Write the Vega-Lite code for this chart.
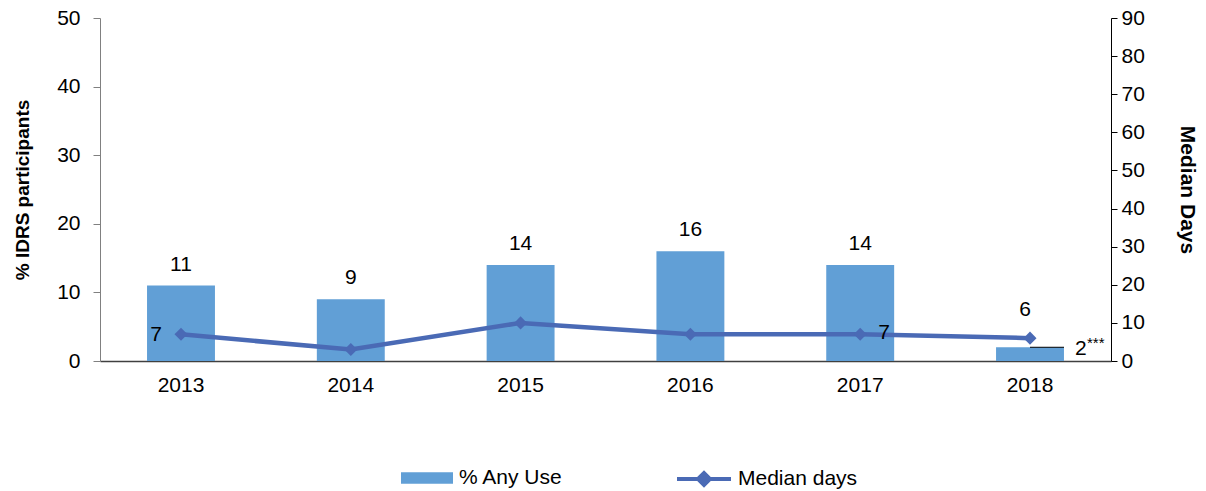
{
  "$schema": "https://vega.github.io/schema/vega-lite/v6.json",
  "width": 1011,
  "height": 343,
  "autosize": {"type": "none"},
  "padding": {"left": 100, "top": 18, "right": 95, "bottom": 130},
  "background": "white",
  "config": {
    "font": "Liberation Sans",
    "view": {"stroke": null},
    "axis": {"grid": false, "labelFont": "Liberation Sans", "titleFont": "Liberation Sans", "labelFontSize": 21, "labelColor": "#000", "titleColor": "#000", "titleFontSize": 21, "titleFontWeight": "bold", "labelOverlap": false, "labelFlush": false},
    "legend": {"labelFont": "Liberation Sans", "labelFontSize": 21, "labelColor": "#000", "padding": 0}
  },
  "data": {
    "values": [
      {"year": "2013", "anyUse": 11, "median": 7, "barLabel": "11", "lineLabel": "7", "series": "% Any Use", "lineSeries": "Median days"},
      {"year": "2014", "anyUse": 9, "median": 3, "barLabel": "9", "lineLabel": "", "series": "% Any Use", "lineSeries": "Median days"},
      {"year": "2015", "anyUse": 14, "median": 10, "barLabel": "14", "lineLabel": "", "series": "% Any Use", "lineSeries": "Median days"},
      {"year": "2016", "anyUse": 16, "median": 7, "barLabel": "16", "lineLabel": "", "series": "% Any Use", "lineSeries": "Median days"},
      {"year": "2017", "anyUse": 14, "median": 7, "barLabel": "14", "lineLabel": "7", "series": "% Any Use", "lineSeries": "Median days"},
      {"year": "2018", "anyUse": 2, "median": 6, "barLabel": "", "lineLabel": "6", "series": "% Any Use", "lineSeries": "Median days"}
    ]
  },
  "encoding": {
    "x": {
      "field": "year", "type": "nominal", "title": null,
      "scale": {"paddingInner": 0.6, "paddingOuter": 0.277},
      "axis": {"labelAngle": 0, "ticks": false, "labelPadding": 13, "domainColor": "#404040", "domainWidth": 1.5}
    }
  },
  "layer": [
    {
      "encoding": {
        "y": {"field": "anyUse", "type": "quantitative", "scale": {"domain": [0, 50]}, "title": "% IDRS participants",
          "axis": {"orient": "left", "values": [0, 10, 20, 30, 40, 50], "tickCount": 20, "labelOverlap": false, "domainColor": "#808080", "tickColor": "#808080", "tickSize": 7, "labelPadding": 13, "titlePadding": 24, "titleFontSize": 19}}
      },
      "layer": [
        {
          "mark": {"type": "bar"},
          "encoding": {
            "fill": {"field": "series", "type": "nominal", "scale": {"range": ["#619FD6"]},
              "legend": {"title": null, "orient": "none", "legendX": 301, "legendY": 434, "symbolType": "M-1,-0.22H1V0.22H-1Z", "symbolSize": 2704, "symbolStrokeWidth": 0, "labelOffset": 6}}
          }
        },
        {
          "mark": {"type": "text", "fontSize": 21, "baseline": "bottom", "dy": -11, "color": "#000"},
          "encoding": {
            "text": {"field": "barLabel"}
          }
        },
        {
          "transform": [{"filter": "datum.year == '2018'"}],
          "mark": {"type": "rule", "color": "#000", "strokeWidth": 1, "x2Offset": 34},
          "encoding": {
            "x": {"field": "year", "type": "nominal", "bandPosition": 0.5},
            "x2": {"field": "year"}
          }
        },
        {
          "transform": [{"filter": "datum.year == '2018'"}],
          "mark": {"type": "text", "fontSize": 21, "align": "left", "baseline": "middle", "dx": 45, "dy": 2, "color": "#000"},
          "encoding": {
            "text": {"value": "2"}
          }
        },
        {
          "transform": [{"filter": "datum.year == '2018'"}],
          "mark": {"type": "text", "fontSize": 15, "align": "left", "baseline": "middle", "dx": 57, "dy": -4, "color": "#000"},
          "encoding": {
            "text": {"value": "***"}
          }
        }
      ]
    },
    {
      "encoding": {
        "y": {"field": "median", "type": "quantitative", "scale": {"domain": [0, 90]}, "title": "Median Days",
          "axis": {"orient": "right", "values": [0, 10, 20, 30, 40, 50, 60, 70, 80, 90], "tickCount": 20, "labelOverlap": false, "domainColor": "#000", "tickColor": "#000", "tickSize": 6, "labelPadding": 4, "titlePadding": 32}}
      },
      "layer": [
        {
          "mark": {"type": "line", "strokeWidth": 4.5},
          "encoding": {
            "stroke": {"field": "lineSeries", "type": "nominal", "scale": {"range": ["#4A6AB5"]},
              "legend": {"title": null, "orient": "none", "legendX": 575, "legendY": 432, "symbolType": "M-1,0H1M-0.22,0L0,-0.22L0.22,0L0,0.22Z", "symbolSize": 2916, "symbolStrokeWidth": 4, "symbolFillColor": "#4A6AB5", "labelOffset": 5}}
          }
        },
        {
          "mark": {"type": "point", "shape": "diamond", "size": 170, "filled": true, "color": "#4A6AB5", "opacity": 1}
        },
        {
          "transform": [{"filter": "datum.year == '2013'"}],
          "mark": {"type": "text", "fontSize": 21, "baseline": "middle", "dx": -25, "dy": 1, "color": "#000"},
          "encoding": {"text": {"field": "lineLabel"}}
        },
        {
          "transform": [{"filter": "datum.year == '2017'"}],
          "mark": {"type": "text", "fontSize": 21, "baseline": "middle", "dx": 24, "dy": -1, "color": "#000"},
          "encoding": {"text": {"field": "lineLabel"}}
        },
        {
          "transform": [{"filter": "datum.year == '2018'"}],
          "mark": {"type": "text", "fontSize": 21, "baseline": "middle", "dx": -5, "dy": -28, "color": "#000"},
          "encoding": {"text": {"field": "lineLabel"}}
        }
      ]
    }
  ],
  "resolve": {"scale": {"y": "independent", "fill": "independent", "stroke": "independent"}}
}
